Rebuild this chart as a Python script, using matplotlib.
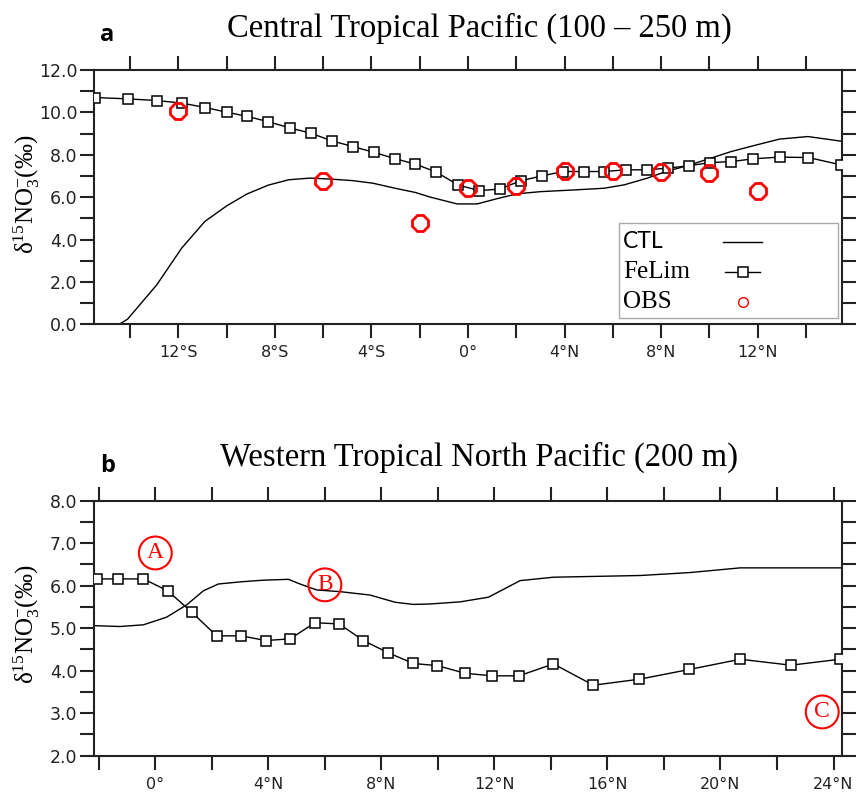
import matplotlib
matplotlib.use('Agg')
import matplotlib.pyplot as plt
from matplotlib.ticker import MultipleLocator, FuncFormatter
from matplotlib.patches import Rectangle
from matplotlib.lines import Line2D

# ---- panel a: Central Tropical Pacific (100-250 m) ----
a_ctl_lat = [-14.45, -14.11, -12.9, -11.87, -10.91, -10.0, -9.16, -8.27, -7.43, -6.54, -5.67,
             -4.78, -3.95, -3.02, -2.18, -1.56, -0.45, 0.38, 1.21, 2.04, 3.01, 4.39, 5.64,
             6.47, 7.44, 8.13, 9.1, 10.07, 10.9, 11.87, 12.91, 14.09, 15.54]
a_ctl_val = [0.0, 0.24, 1.86, 3.59, 4.85, 5.59, 6.15, 6.57, 6.82, 6.9, 6.85,
             6.78, 6.66, 6.42, 6.22, 6.0, 5.68, 5.68, 5.93, 6.16, 6.26, 6.34, 6.42,
             6.58, 6.9, 7.18, 7.49, 7.84, 8.15, 8.44, 8.74, 8.86, 8.63]

a_fe_lat = [-15.44, -14.11, -12.9, -11.86, -10.89, -10.0, -9.14, -8.28, -7.39, -6.52, -5.65,
            -4.78, -3.91, -3.04, -2.18, -1.31, -0.42, 0.45, 1.31, 2.18, 3.05, 3.94, 4.8,
            5.64, 6.54, 7.41, 8.28, 9.14, 10.03, 10.91, 11.83, 12.91, 14.11, 15.47]
a_fe_val = [10.70, 10.64, 10.56, 10.44, 10.23, 10.01, 9.81, 9.56, 9.27, 9.02, 8.66,
            8.39, 8.12, 7.82, 7.56, 7.18, 6.58, 6.31, 6.38, 6.77, 7.0, 7.21, 7.21,
            7.21, 7.29, 7.29, 7.37, 7.48, 7.63, 7.68, 7.81, 7.89, 7.87, 7.52]

a_obs_lat = [-12, -6, -2, 0, 2, 4, 6, 8, 10, 12]
a_obs_val = [10.05, 6.77, 4.78, 6.44, 6.53, 7.24, 7.22, 7.21, 7.16, 6.30]

# ---- panel b: Western Tropical North Pacific (200 m) ----
b_ctl_lat = [-2.16, -1.25, -0.42, 0.4, 1.11, 1.7, 2.23, 3.0, 3.82, 4.71, 5.12, 5.71, 6.54,
             7.6, 8.49, 9.13, 9.72, 10.79, 11.79, 12.91, 14.09, 17.16, 18.93, 20.7, 24.24]
b_ctl_val = [5.06, 5.04, 5.08, 5.26, 5.55, 5.88, 6.04, 6.09, 6.13, 6.15, 6.04, 5.9, 5.86,
             5.78, 5.61, 5.56, 5.57, 5.62, 5.73, 6.12, 6.20, 6.24, 6.31, 6.42, 6.42]

b_fe_lat = [-2.07, -1.31, -0.42, 0.44, 1.3, 2.17, 3.04, 3.91, 4.77, 5.65, 6.51, 7.36, 8.25,
            9.13, 9.98, 10.96, 11.91, 12.87, 14.09, 15.5, 17.13, 18.9, 20.7, 22.49, 24.24]
b_fe_val = [6.16, 6.16, 6.16, 5.88, 5.37, 4.82, 4.82, 4.71, 4.75, 5.13, 5.10, 4.71, 4.42,
            4.17, 4.12, 3.94, 3.88, 3.88, 4.16, 3.66, 3.80, 4.03, 4.27, 4.13, 4.27]

b_obs_lat = [0.0, 6.0, 23.6]
b_obs_val = [6.77, 6.02, 3.03]
b_obs_tag = ['A', 'B', 'C']

plt.rcParams['mathtext.fontset'] = 'custom'
plt.rcParams['mathtext.rm'] = 'Liberation Serif'
plt.rcParams['mathtext.it'] = 'Liberation Serif:italic'

SERIF = 'Liberation Serif'
INK = '#222222'
YLABEL = 'δ$^{15}$NO$_3^{-}$(‰)'


def lat_label(v, pos):
    v = int(round(v))
    if v == 0:
        return '0°'
    return '%d°%s' % (abs(v), 'N' if v > 0 else 'S')


def style_axes(ax, xlim, ylim, xmaj, ymaj, ymin):
    ax.set_xlim(*xlim)
    ax.set_ylim(*ylim)
    ax.xaxis.set_major_locator(MultipleLocator(xmaj))
    ax.xaxis.set_minor_locator(MultipleLocator(xmaj / 2))
    ax.xaxis.set_major_formatter(FuncFormatter(lat_label))
    ax.yaxis.set_major_locator(MultipleLocator(ymaj))
    ax.yaxis.set_minor_locator(MultipleLocator(ymin))
    ax.yaxis.set_major_formatter(FuncFormatter(lambda v, p: '%.1f' % v))
    ax.tick_params(which='both', direction='out', length=10, width=1.5, color=INK,
                   top=True, right=True, labeltop=False, labelright=False)
    ax.tick_params(axis='x', labelsize=11.5, pad=5, labelcolor=INK)
    ax.tick_params(axis='y', labelsize=12.5, pad=2, labelcolor=INK)
    for s in ax.spines.values():
        s.set_linewidth(1.5)
        s.set_color(INK)


def add_ylabel(ax, ypos):
    ax.set_ylabel(YLABEL, fontsize=18, family=SERIF, va='center')
    ax.yaxis.set_label_coords(-0.09, ypos)


fig = plt.figure(figsize=(8.57, 7.94), dpi=100)
ax1 = fig.add_axes([0.1097, 0.5916, 0.8728, 0.3202])
ax2 = fig.add_axes([0.1097, 0.0482, 0.8728, 0.3212])

# panel a
ax1.plot(a_ctl_lat, a_ctl_val, color='black', lw=1.0, zorder=2)
ax1.plot(a_fe_lat, a_fe_val, color='black', lw=1.0, marker='s', ms=7.5,
         mfc='white', mec='black', mew=1.1, zorder=3)
ax1.plot(a_obs_lat, a_obs_val, ls='none', marker='8', ms=12, mfc='none',
         mec='red', mew=2.0, zorder=4)
style_axes(ax1, (-15.5, 15.5), (0, 12), 4, 2, 1)
add_ylabel(ax1, 0.51)
ax1.text(0.515, 1.132, 'Central Tropical Pacific (100 \u2013 250 m)', transform=ax1.transAxes,
         ha='center', va='baseline', fontsize=23.5, family=SERIF)
ax1.text(0.008, 1.115, 'a', transform=ax1.transAxes, ha='left', va='baseline',
         fontsize=17, fontweight='bold', family='Open Sans')

# legend drawn by hand: labels left, keys right
ax1.add_patch(Rectangle((0.702, 0.024), 0.293, 0.374, transform=ax1.transAxes,
                        fill=False, ec='#aaaaaa', lw=1.0, zorder=5))
rows = [0.325, 0.207, 0.089]
ax1.text(0.707, rows[0], 'CTL', transform=ax1.transAxes, va='center', fontsize=16.5,
         family='Lato', zorder=6)
ax1.text(0.707, rows[1], 'FeLim', transform=ax1.transAxes, va='center', fontsize=18,
         family=SERIF, zorder=6)
ax1.text(0.707, rows[2], 'OBS', transform=ax1.transAxes, va='center', fontsize=18,
         family=SERIF, zorder=6)
ax1.add_line(Line2D([0.841, 0.893], [rows[0]] * 2, transform=ax1.transAxes,
                    color='black', lw=1.0, zorder=6))
ax1.add_line(Line2D([0.843, 0.867, 0.891], [rows[1]] * 3, transform=ax1.transAxes,
                    color='black', lw=1.0, marker='s', ms=7.5, mfc='white', mec='black',
                    mew=1.1, markevery=[1], zorder=6))
ax1.add_line(Line2D([0.867], [rows[2]], transform=ax1.transAxes, ls='none', marker='o',
                    ms=7, mfc='none', mec='red', mew=1.0, zorder=6))

# panel b
ax2.plot(b_ctl_lat, b_ctl_val, color='black', lw=1.0, zorder=2)
ax2.plot(b_fe_lat, b_fe_val, color='black', lw=1.0, marker='s', ms=7.5,
         mfc='white', mec='black', mew=1.1, zorder=3)
ax2.scatter(b_obs_lat, b_obs_val, s=560, marker='o', facecolors='none',
            edgecolors='red', linewidths=1.5, zorder=4)
for lat, val, tag in zip(b_obs_lat, b_obs_val, b_obs_tag):
    ax2.text(lat, val, tag, ha='center', va='center', color='red', fontsize=17,
             family=SERIF, zorder=5)
style_axes(ax2, (-2.17, 24.3), (2, 8), 4, 1, 0.5)
add_ylabel(ax2, 0.514)
ax2.text(0.515, 1.136, 'Western Tropical North Pacific (200 m)', transform=ax2.transAxes,
         ha='center', va='baseline', fontsize=23.5, family=SERIF)
ax2.text(0.008, 1.1125, 'b', transform=ax2.transAxes, ha='left', va='baseline',
         fontsize=17, fontweight='bold', family='Open Sans')

fig.savefig('out.png', dpi=100)
